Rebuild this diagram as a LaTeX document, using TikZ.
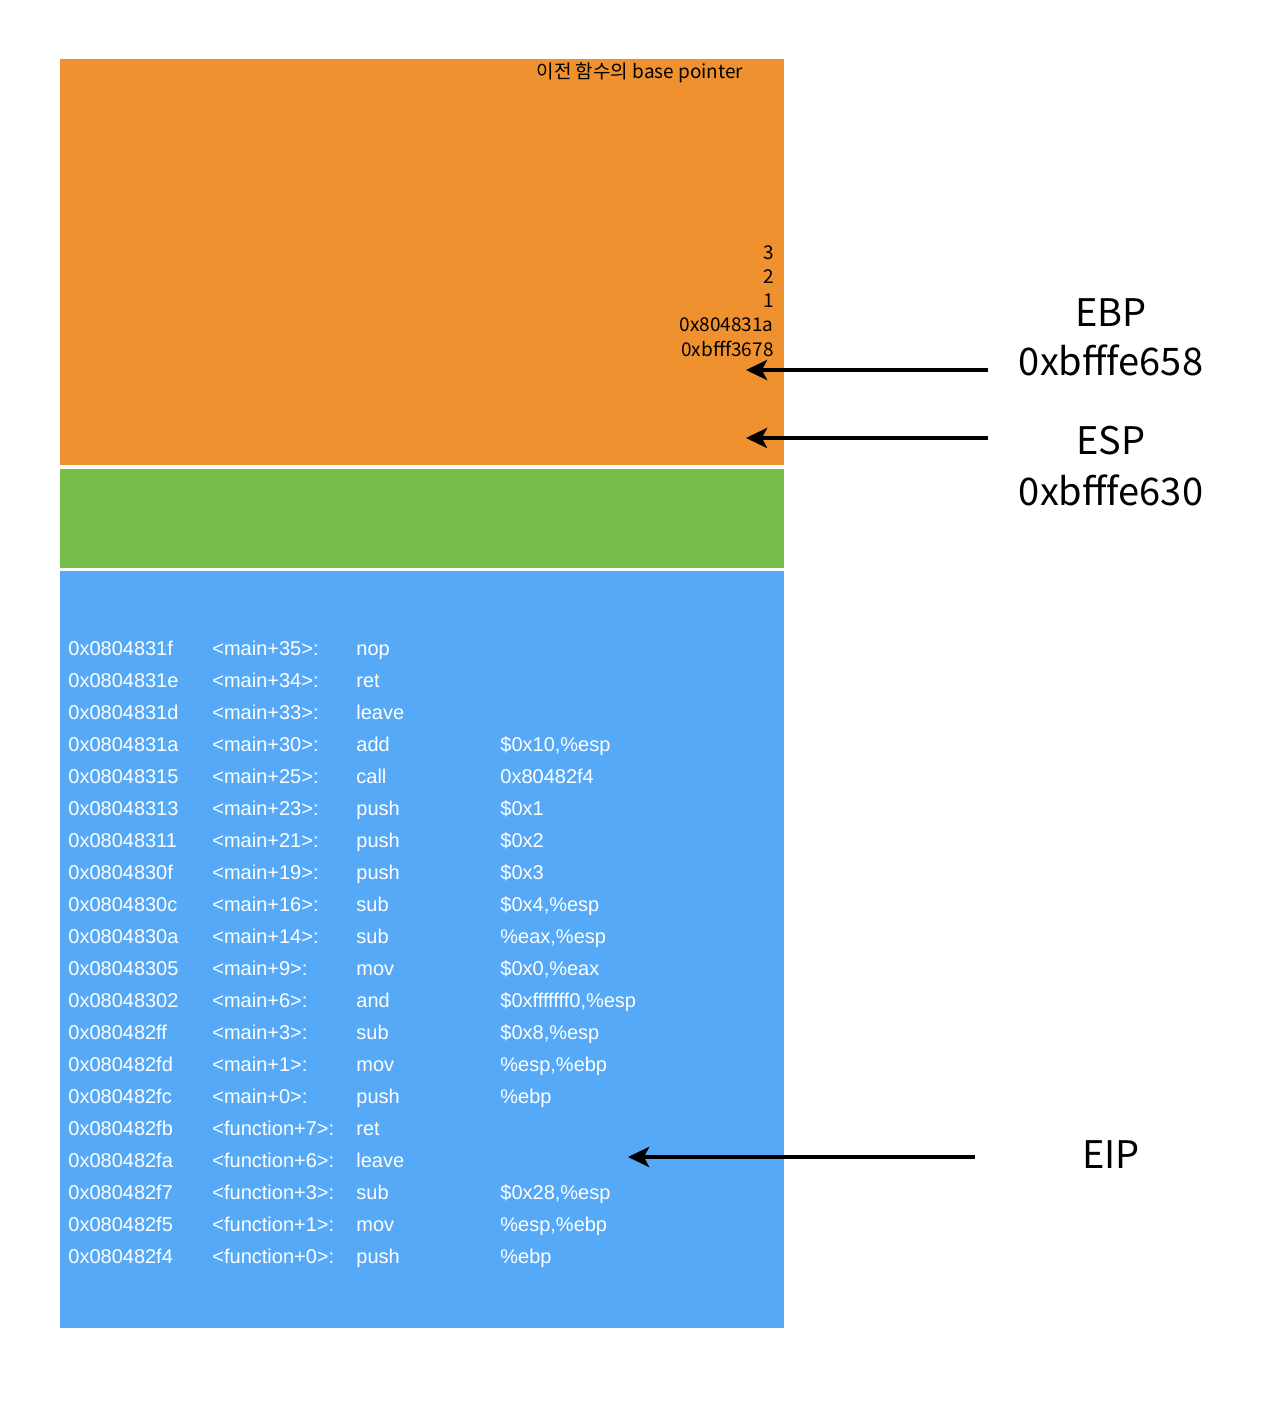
\documentclass[tikz,border=0pt]{standalone}
\usepackage{fontspec}
\setmainfont{Liberation Sans}
\newfontfamily\krfont{Noto Sans CJK KR}
\usepackage{tikz}
\usetikzlibrary{matrix}
\usetikzlibrary{shapes, positioning}
\usetikzlibrary{calc}
\usetikzlibrary{arrows.meta}
\definecolor{frameorange}{RGB}{240,145,48}
\definecolor{framegreen}{RGB}{117,190,73}
\definecolor{codeblue}{RGB}{86,169,246}
\tikzset{
	stackval/.style={font=\krfont\fontsize{9.5}{11}\selectfont, inner sep=0pt, anchor=east},
	reglabel/.style={font=\krfont\fontsize{19}{22}\selectfont, inner sep=0pt},
	pointer/.style={line width=1.8pt, -{Stealth[length=10.5pt, width=10pt, inset=2.5pt]}}
}

\begin{document}
\begin{tikzpicture}[x=0.5pt, y=-0.5pt]
		\useasboundingbox (0,0) rectangle (1266,1414);
		% stack frames
		\fill[frameorange] (60,59) rectangle (784,465);
		\fill[framegreen] (60,469) rectangle (784,568);
		\fill[codeblue] (60,571) rectangle (784,1328);
		
		\node[stackval, anchor=center] (prevbp) at (640,73) {이전 함수의 base pointer};
		\foreach \val [count=\i] in {3,2,1,0x804831a,0xbfff3678} {
			\node[stackval] (slot\i) at (774,{229+24*\i}) {\val};
		}
		
		% disassembly
		\matrix (code) [matrix of nodes, anchor=north west, inner sep=0pt, row sep=0pt, column sep=0pt,
			nodes={text width=72pt, align=left, inner sep=0pt, minimum height=16pt, text height=9pt, text depth=2pt, text=white, font=\fontsize{10}{12}\selectfont}] at (68,632) {
			0x0804831f & <main+35>: & nop \\
			0x0804831e & <main+34>: & ret \\
			0x0804831d & <main+33>: & leave \\
			0x0804831a & <main+30>: & add & \$0x10,\%esp \\
			0x08048315 & <main+25>: & call & 0x80482f4 \\
			0x08048313 & <main+23>: & push & \$0x1 \\
			0x08048311 & <main+21>: & push & \$0x2 \\
			0x0804830f & <main+19>: & push & \$0x3 \\
			0x0804830c & <main+16>: & sub & \$0x4,\%esp \\
			0x0804830a & <main+14>: & sub & \%eax,\%esp \\
			0x08048305 & <main+9>: & mov & \$0x0,\%eax \\
			0x08048302 & <main+6>: & and & \$0xfffffff0,\%esp \\
			0x080482ff & <main+3>: & sub & \$0x8,\%esp \\
			0x080482fd & <main+1>: & mov & \%esp,\%ebp \\
			0x080482fc & <main+0>: & push & \%ebp \\
			0x080482fb & <function+7>: & ret \\
			0x080482fa & <function+6>: & leave \\
			0x080482f7 & <function+3>: & sub & \$0x28,\%esp \\
			0x080482f5 & <function+1>: & mov & \%esp,\%ebp \\
			0x080482f4 & <function+0>: & push & \%ebp \\
		};
		
		% registers
		\node[reglabel] (ebp) at (1111,313) {EBP};
		\node[reglabel] (ebpval) at (1111,360) {0xbfffe658};
		\node[reglabel] (esp) at (1111,441) {ESP};
		\node[reglabel] (espval) at (1111,490) {0xbfffe630};
		\node[reglabel] (eip) at (1111,1155) {EIP};
		
		\coordinate (ebpfrom) at (988,370);
		\coordinate (ebpto) at (746,370);
		\coordinate (espfrom) at (988,438);
		\coordinate (espto) at (746,438);
		\coordinate (eipfrom) at (975,1157);
		\coordinate (eipto) at (628,1157);
		\draw[pointer] (ebpfrom) -- (ebpto);
		\draw[pointer] (espfrom) -- (espto);
		\draw[pointer] (eipfrom) -- (eipto);
	\end{tikzpicture}
\end{document}
